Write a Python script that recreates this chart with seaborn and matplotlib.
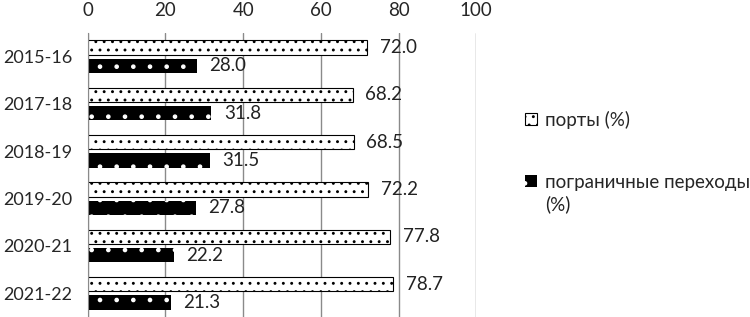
import pandas as pd
import seaborn as sns
import matplotlib.pyplot as plt

# Data
years = ["2015-16", "2017-18", "2018-19", "2019-20", "2020-21", "2021-22"]
ports = [72.0, 68.2, 68.5, 72.2, 77.8, 78.7]
border = [28.0, 31.8, 31.5, 27.8, 22.2, 21.3]
series_names = ["порты (%)", "пограничные переходы (%)"]

df = pd.DataFrame({
    "year": years * 2,
    "value": ports + border,
    "series": [series_names[0]] * len(years) + [series_names[1]] * len(years),
})

sns.set_style("white")
plt.rcParams["font.family"] = ["Lato", "DejaVu Sans"]
plt.rcParams["hatch.linewidth"] = 0.9

fig = plt.figure(figsize=(7.5, 3.17), dpi=100)
ax = fig.add_axes([0.117, 0.0, 0.518, 0.896])

sns.barplot(data=df, x="value", y="year", hue="series", orient="h",
            palette=["white", "black"], width=0.78, gap=0.22,
            legend=False, ax=ax)

# hatching: white bars with dark marks, black bars with white dots
for patch in ax.containers[0].patches:
    patch.set_edgecolor("black")
    patch.set_linewidth(0.8)
    patch.set_hatch("..")
for patch in ax.containers[1].patches:
    patch.set_facecolor("black")
    patch.set_edgecolor("white")
    patch.set_linewidth(0)
    patch.set_hatch(".")

for cont in ax.containers:
    ax.bar_label(cont, fmt="%.1f", padding=9, fontsize=13.5, color="#222222")

ax.set_xlim(0, 100)
ax.set_xticks([0, 20, 40, 60, 80, 100])
ax.xaxis.tick_top()
ax.tick_params(axis="x", length=0, pad=10, labelsize=13.5)
ax.tick_params(axis="y", length=0, pad=11, labelsize=13)
ax.set_xlabel("")
ax.set_ylabel("")
ax.grid(axis="x", color="#8a8a8a", linewidth=1)
ax.set_axisbelow(True)
for side in ["top", "right", "bottom"]:
    ax.spines[side].set_visible(False)
ax.spines["left"].set_color("#8a8a8a")

# legend: single-line labels, the "(%)" of the second one wraps below
handles = [ax.containers[0].patches[0], ax.containers[1].patches[0]]
legend_labels = ["порты (%)", "пограничные переходы"]
leg = fig.legend(handles, legend_labels, loc="upper left",
                 bbox_to_anchor=(0.69, 0.675), frameon=False, fontsize=13.5,
                 handlelength=0.65, handleheight=0.65, handletextpad=0.4,
                 labelspacing=2.4, borderaxespad=0)
fig.canvas.draw()
bb = leg.texts[1].get_window_extent().transformed(fig.transFigure.inverted())
fig.text(bb.x0, bb.y0 - 0.015, "(%)", fontsize=13.5, color="#222222",
         ha="left", va="top")

fig.savefig("out.png", dpi=100)
